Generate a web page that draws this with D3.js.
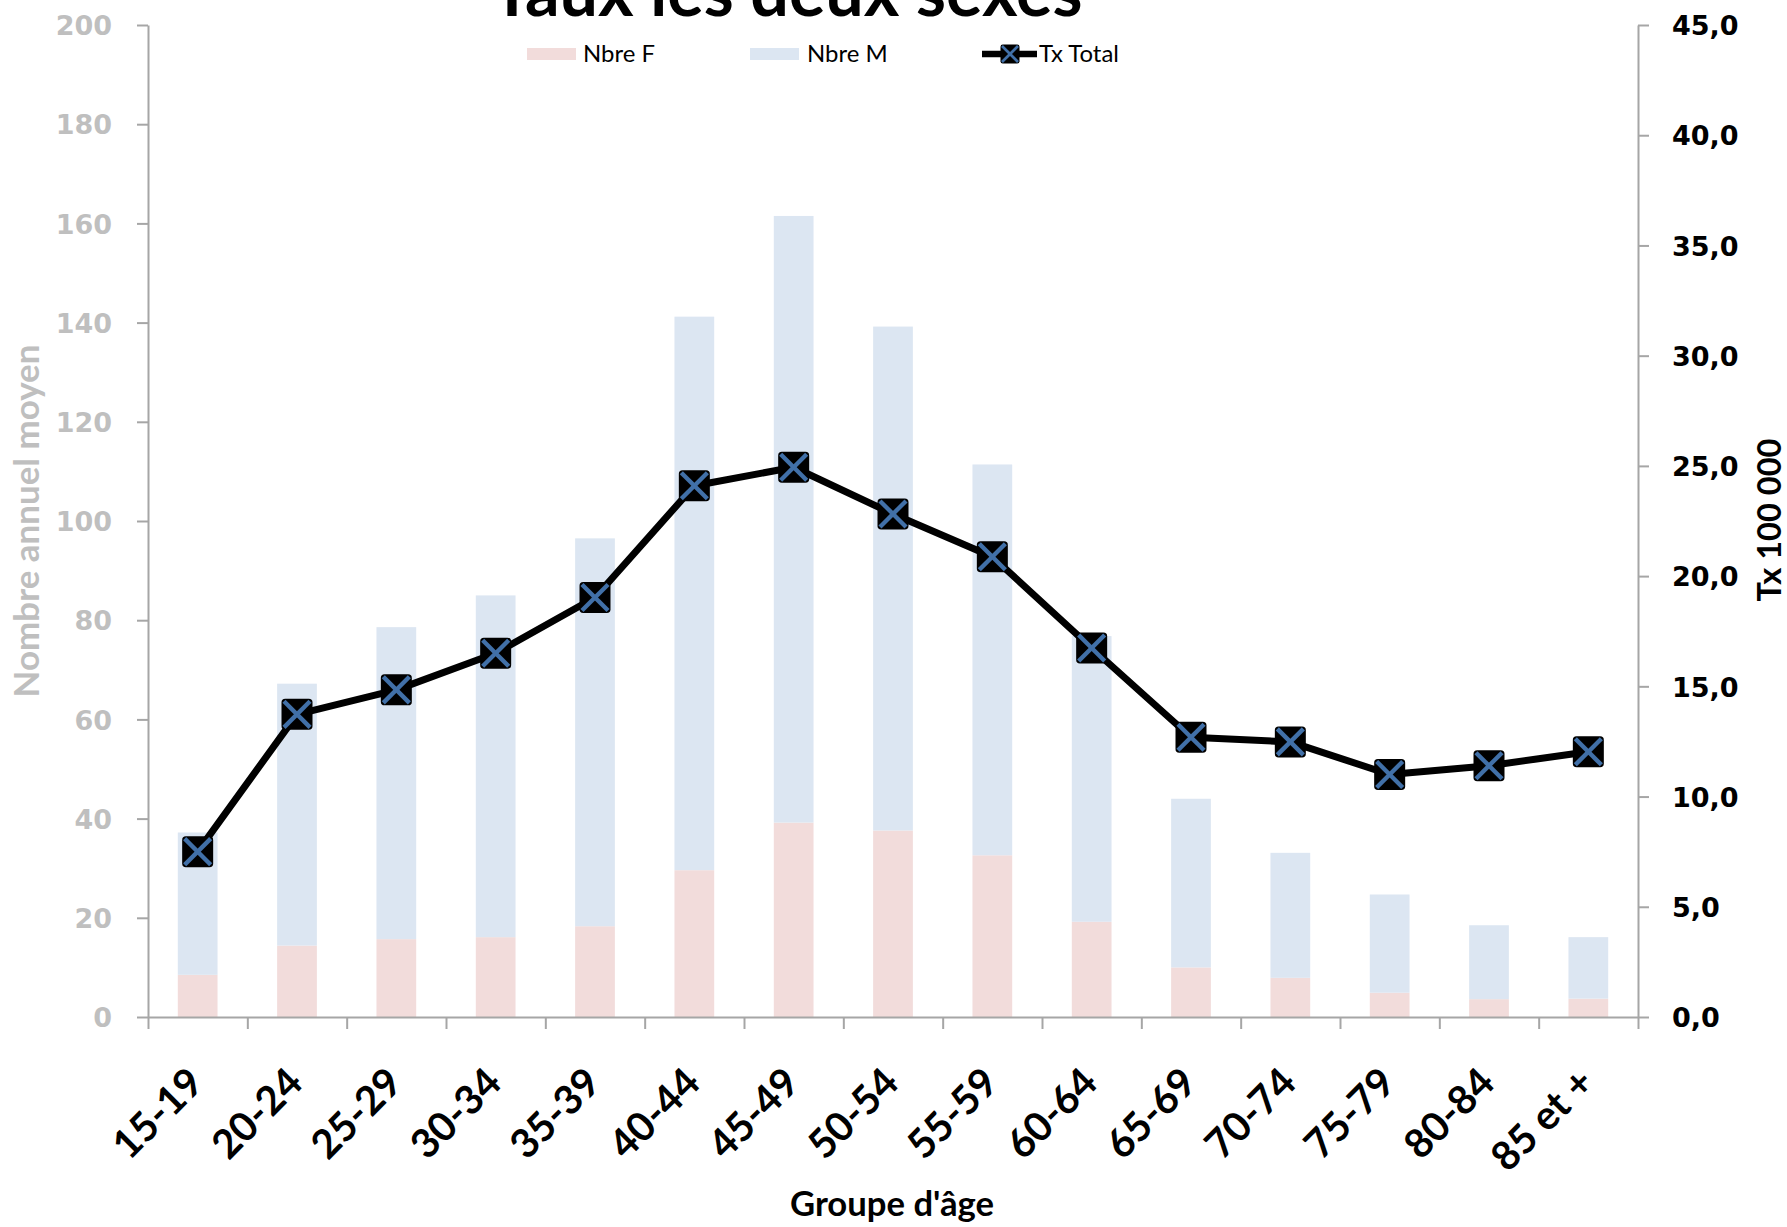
<!DOCTYPE html>
<html>
<head>
<meta charset="utf-8">
<script src="https://cdn.jsdelivr.net/npm/d3@7"></script>
<style>
  html, body { margin: 0; padding: 0; background: #fff; }
  svg { display: block; }
</style>
</head>
<body>
<svg id="chart" width="1787" height="1227"></svg>
<script>
// ---- Data ----
const categories = ["15-19","20-24","25-29","30-34","35-39","40-44","45-49","50-54","55-59","60-64","65-69","70-74","75-79","80-84","85 et +"];
const nbreF = [8.5, 14.4, 15.7, 16.1, 18.3, 29.6, 39.2, 37.6, 32.6, 19.2, 10.0, 7.9, 4.9, 3.6, 3.7];
const nbreM = [28.7, 52.8, 62.9, 68.9, 78.2, 111.6, 122.3, 101.6, 78.8, 57.6, 34.0, 25.2, 19.8, 14.9, 12.4];
const txTotal = [7.5, 13.73, 14.84, 16.5, 19.03, 24.1, 24.94, 22.82, 20.88, 16.74, 12.69, 12.48, 11.0, 11.4, 12.03];
const leftTicks = [0, 20, 40, 60, 80, 100, 120, 140, 160, 180, 200];
const rightTicks = [0, 5, 10, 15, 20, 25, 30, 35, 40, 45];
const seriesNames = ["Nbre F", "Nbre M", "Tx Total"];
const titleText = "Taux les deux sexes";
const leftTitle = "Nombre annuel moyen";
const rightTitle = "Tx 100 000";
const xTitle = "Groupe d'âge";

// ---- Layout ----
const svg = d3.select("#chart");
const L = 148, R = 1638, T = 25, B = 1017;
const colF = "#f2dcdb", colM = "#dce6f2", axisCol = "#a6a6a6", grayText = "#bfbfbf";
const blueX = "#4170a8";
const sans = "Lato, 'Open Sans', sans-serif";
const numFont = "'DejaVu Sans', Verdana, sans-serif";

function fitWidth(sel, w) {
  const l = sel.node().getComputedTextLength();
  const fs = parseFloat(sel.attr("font-size"));
  const nfs = fs * w / l;
  sel.attr("font-size", nfs);
  return nfs;
}

const x = d3.scaleBand().domain(categories).range([L, R]).paddingInner(0.6).paddingOuter(0.3);
const xLin = d3.scaleLinear().domain([0, categories.length]).range([L, R]);
const yL = d3.scaleLinear().domain([0, 200]).range([B, T]);
const yR = d3.scaleLinear().domain([0, 45]).range([B, T]);

const frFmt = d3.formatLocale({decimal: ",", thousands: " ", grouping: [3], currency: ["", " €"]}).format(".1f");

// ---- Bars (stacked) ----
const stackData = categories.map((c, i) => ({cat: c, F: nbreF[i], M: nbreM[i]}));
const stacked = d3.stack().keys(["F", "M"])(stackData);
const colors = {F: colF, M: colM};
svg.append("g").selectAll("g").data(stacked).join("g")
  .attr("fill", d => colors[d.key])
  .selectAll("rect").data(d => d).join("rect")
  .attr("x", d => x(d.data.cat))
  .attr("width", x.bandwidth())
  .attr("y", d => yL(d[1]))
  .attr("height", d => yL(d[0]) - yL(d[1]));

// ---- Axes ----
const axL = svg.append("g").attr("transform", `translate(${L},0)`)
  .call(d3.axisLeft(yL).tickValues(leftTicks).tickSize(11).tickSizeOuter(0).tickPadding(25).tickFormat(d3.format("d")));
axL.select(".domain").attr("stroke", axisCol).attr("stroke-width", 2);
axL.selectAll(".tick line").attr("stroke", axisCol).attr("stroke-width", 2);
axL.selectAll(".tick text").attr("fill", grayText).attr("font-family", numFont).attr("font-weight", "bold").attr("font-size", 27).attr("dy", "0.36em");

const axR = svg.append("g").attr("transform", `translate(${R},0)`)
  .call(d3.axisRight(yR).tickValues(rightTicks).tickSize(11).tickSizeOuter(0).tickPadding(23).tickFormat(frFmt));
axR.select(".domain").attr("stroke", axisCol).attr("stroke-width", 2);
axR.selectAll(".tick line").attr("stroke", axisCol).attr("stroke-width", 2);
axR.selectAll(".tick text").attr("fill", "#000").attr("font-family", numFont).attr("font-weight", "bold").attr("font-size", 27).attr("dy", "0.36em");

// x axis: boundary ticks
const axB = svg.append("g").attr("transform", `translate(0,${B})`)
  .call(d3.axisBottom(xLin).tickValues(d3.range(categories.length + 1)).tickSize(12).tickSizeOuter(0).tickFormat(""));
axB.select(".domain").attr("stroke", axisCol).attr("stroke-width", 2);
axB.selectAll(".tick line").attr("stroke", axisCol).attr("stroke-width", 2);

// x labels
const axLab = svg.append("g").attr("transform", `translate(0,${B})`)
  .call(d3.axisBottom(x).tickSize(0));
axLab.select(".domain").remove();
const xt = axLab.selectAll(".tick text")
  .attr("x", null).attr("y", null).attr("dy", null)
  .attr("text-anchor", "end")
  .attr("fill", "#000")
  .attr("font-family", sans).attr("font-weight", "bold").attr("font-size", 40)
  .attr("transform", "translate(8,68) rotate(-45)");
const xfs = fitWidth(axLab.select(".tick text"), 108);
xt.attr("font-size", xfs);

// ---- Line + markers ----
const pts = categories.map((c, i) => [x(c) + x.bandwidth() / 2, yR(txTotal[i])]);
svg.append("path").datum(pts)
  .attr("d", d3.line())
  .attr("fill", "none").attr("stroke", "#000").attr("stroke-width", 7).attr("stroke-linejoin", "round");

function drawMarker(g, s) {
  const h = s / 2, a = h * 0.84;
  g.append("rect").attr("x", -h).attr("y", -h).attr("width", s).attr("height", s).attr("rx", s * 0.12).attr("fill", "#000");
  g.append("line").attr("x1", -a).attr("y1", -a).attr("x2", a).attr("y2", a).attr("stroke", blueX).attr("stroke-width", s * 0.14);
  g.append("line").attr("x1", -a).attr("y1", a).attr("x2", a).attr("y2", -a).attr("stroke", blueX).attr("stroke-width", s * 0.14);
}
svg.append("g").selectAll("g").data(pts).join("g")
  .attr("transform", d => `translate(${d[0]},${d[1]})`)
  .each(function () { drawMarker(d3.select(this), 31); });

// ---- Title ----
const title = svg.append("text").text(titleText)
  .attr("x", 787).attr("y", 16).attr("text-anchor", "middle")
  .attr("font-family", sans).attr("font-weight", "bold").attr("font-size", 70).attr("fill", "#000");
fitWidth(title, 591);

// ---- Legend ----
const legY = 54;
const leg = svg.append("g");
leg.append("rect").attr("x", 527).attr("y", legY - 6).attr("width", 49).attr("height", 12).attr("fill", colF);
leg.append("rect").attr("x", 750).attr("y", legY - 6).attr("width", 49).attr("height", 12).attr("fill", colM);
leg.append("line").attr("x1", 982).attr("x2", 1037).attr("y1", legY).attr("y2", legY).attr("stroke", "#000").attr("stroke-width", 6.5);
drawMarker(leg.append("g").attr("transform", `translate(1010,${legY})`), 19);
const legX = [583, 807, 1039];
const legT = leg.selectAll("text.lg").data(seriesNames).join("text").attr("class", "lg")
  .attr("x", (d, i) => legX[i]).attr("y", legY).attr("dy", "0.35em")
  .attr("font-family", sans).attr("font-size", 22).attr("fill", "#000")
  .text(d => d);
const lfs = fitWidth(d3.select(legT.nodes()[2]), 80);
legT.attr("font-size", lfs);

// ---- Axis titles ----
const lt = svg.append("text").text(leftTitle)
  .attr("transform", "translate(27,521) rotate(-90)")
  .attr("text-anchor", "middle").attr("dy", "0.35em")
  .attr("font-family", sans).attr("font-weight", "bold").attr("font-size", 34).attr("fill", grayText);
fitWidth(lt, 353);

const rt = svg.append("text").text(rightTitle)
  .attr("transform", "translate(1770,520) rotate(-90)")
  .attr("text-anchor", "middle").attr("dy", "0.35em")
  .attr("font-family", sans).attr("font-weight", "bold").attr("font-size", 30).attr("fill", "#000");
fitWidth(rt, 163);

const xtTitle = svg.append("text").text(xTitle)
  .attr("x", 892).attr("y", 1216).attr("text-anchor", "middle")
  .attr("font-family", sans).attr("font-weight", "bold").attr("font-size", 34).attr("fill", "#000");
fitWidth(xtTitle, 204);
</script>
</body>
</html>
